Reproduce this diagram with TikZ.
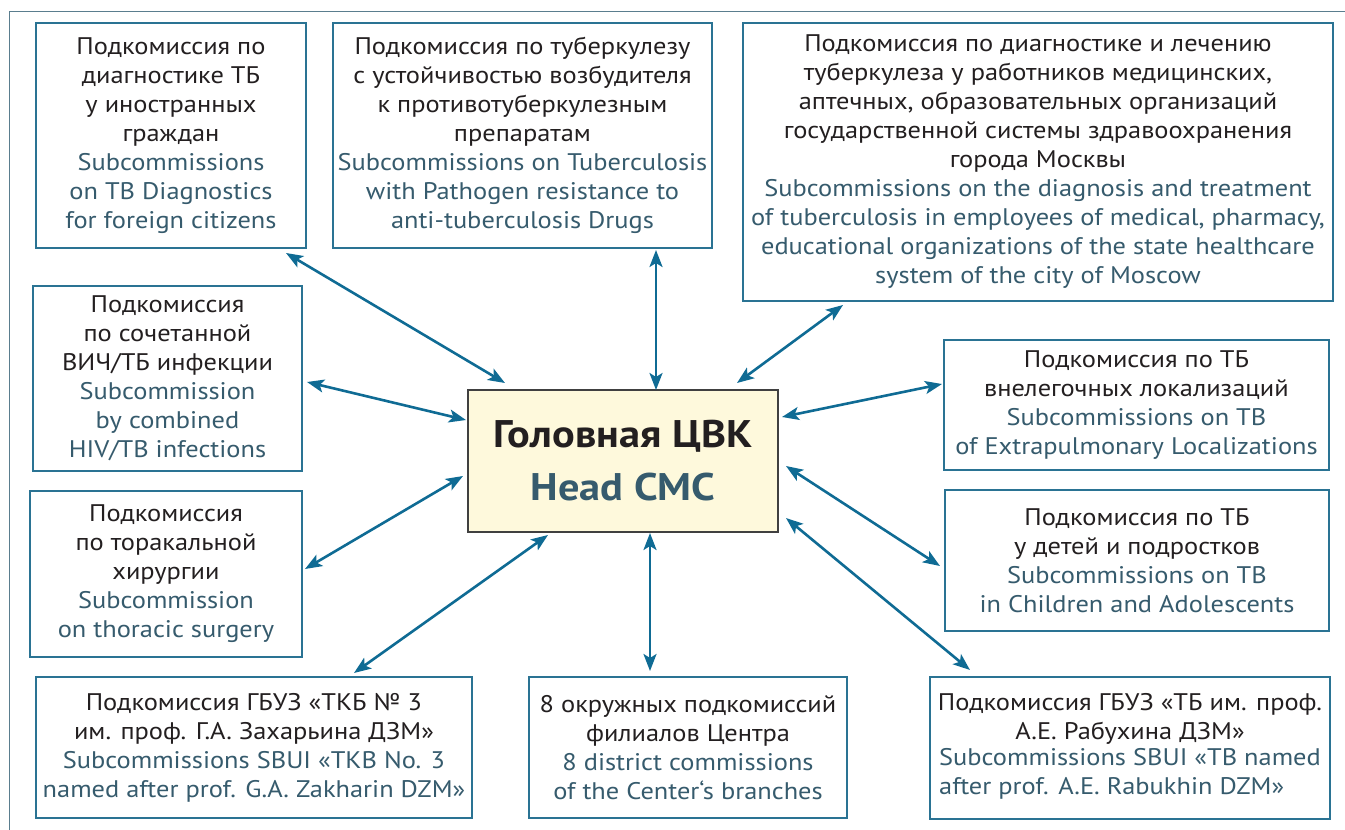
\documentclass[tikz,border=0pt]{standalone}
\usepackage{fontspec}
\setmainfont[FakeStretch=1.1]{PT Sans}
\usetikzlibrary{arrows.meta}
\definecolor{ru}{HTML}{231F20}
\definecolor{en}{HTML}{365B6D}
\definecolor{boxc}{HTML}{2A7393}
\definecolor{arr}{HTML}{0F6B94}
\definecolor{cfill}{HTML}{FEF9DC}
\definecolor{cdraw}{HTML}{404040}
\definecolor{frame}{HTML}{5A7D8E}
\newcommand{\en}[1]{\textcolor{en}{#1}}
\tikzset{
  box/.style={draw=boxc, line width=1.3pt, fill=white, inner sep=0pt, align=center,
    text=ru, font=\fontsize{24}{29}\selectfont},
  centre/.style={draw=cdraw, line width=1.5pt, fill=cfill, inner sep=0pt, align=center,
    text=ru, font=\fontsize{38.5}{53}\selectfont\bfseries},
  conn/.style={draw=arr, line width=2.6pt,
    {Stealth[length=17pt,width=13pt,inset=4pt]}-{Stealth[length=17pt,width=13pt,inset=4pt]}},
}
\begin{document}
\begin{tikzpicture}[x=1pt,y=-1pt]
\useasboundingbox (0,0) rectangle (1345,830);
\draw[frame, line width=1pt] (9,830) -- (9,11) -- (1345,11);

\node[centre, minimum width=310, minimum height=142] (c) at (623,461)
  {Головная ЦВК\\\en{Head CMC}};

\node[box, minimum width=270, minimum height=225] (b1) at (171,135.5)
  {Подкомиссия по\\диагностике ТБ\\у иностранных\\граждан\\\en{Subcommissions}\\\en{on TB Diagnostics}\\\en{for foreign citizens}};
\node[box, minimum width=379, minimum height=225] (b2) at (522.5,135.5)
  {Подкомиссия по туберкулезу\\с устойчивостью возбудителя\\к противотуберкулезным\\препаратам\\\en{Subcommissions on Tuberculosis}\\\en{with Pathogen resistance to}\\\en{anti-tuberculosis Drugs}};
\node[box, minimum width=590, minimum height=278] (b3) at (1038,162)
  {Подкомиссия по диагностике и лечению\\туберкулеза у работников медицинских,\\аптечных, образовательных организаций\\государственной системы здравоохранения\\города Москвы\\\en{Subcommissions on the diagnosis and treatment}\\\en{of tuberculosis in employees of medical, pharmacy,}\\\en{educational organizations of the state healthcare}\\\en{system of the city of Moscow}};
\node[box, minimum width=269, minimum height=185] (b4) at (167.5,378.5)
  {Подкомиссия\\по сочетанной\\ВИЧ/ТБ инфекции\\\en{Subcommission}\\\en{by combined}\\\en{HIV/TB infections}};
\node[box, minimum width=272, minimum height=166] (b5) at (166,574)
  {Подкомиссия\\по торакальной\\хирургии\\\en{Subcommission}\\\en{on thoracic surgery}};
\node[box, minimum width=436, minimum height=141] (b6) at (254,747.5)
  {Подкомиссия ГБУЗ «ТКБ № 3\\им. проф. Г.А. Захарьина ДЗМ»\\\en{Subcommissions SBUI «TKB No. 3}\\\en{named after prof. G.A. Zakharin DZM»}};
\node[box, minimum width=318, minimum height=141] (b7) at (688,747.5)
  {8 окружных подкомиссий\\филиалов Центра\\\en{8 district commissions}\\\en{of the Center‘s branches}};
\node[box, minimum width=400, minimum height=142] (b8) at (1130,748)
  {Подкомиссия ГБУЗ «ТБ им. проф.\\А.Е. Рабухина ДЗМ»\\\color{en}\begin{tabular}{@{}l@{}}Subcommissions SBUI «TB named\\after prof. A.E. Rabukhin DZM»\end{tabular}};
\node[box, minimum width=385, minimum height=130] (b9) at (1136.5,405)
  {Подкомиссия по ТБ\\внелегочных локализаций\\\en{Subcommissions on TB}\\\en{of Extrapulmonary Localizations}};
\node[box, minimum width=384, minimum height=141] (b10) at (1137,560.5)
  {Подкомиссия по ТБ\\у детей и подростков\\\en{Subcommissions on TB}\\\en{in Children and Adolescents}};

\coordinate (a1s) at (286,253);  \coordinate (a1e) at (505,383);
\coordinate (a2s) at (656,250);  \coordinate (a2e) at (656,390);
\coordinate (a3s) at (843,305);  \coordinate (a3e) at (737,383);
\coordinate (a4s) at (942,384);  \coordinate (a4e) at (782,417);
\coordinate (a5s) at (307,382);  \coordinate (a5e) at (466,420);
\coordinate (a6s) at (463,476);  \coordinate (a6e) at (305,569);
\coordinate (a7s) at (786,466);  \coordinate (a7e) at (940,566);
\coordinate (a8s) at (548,535);  \coordinate (a8e) at (354,673);
\coordinate (a9s) at (650,533);  \coordinate (a9e) at (650,671);
\coordinate (a10s) at (786,518); \coordinate (a10e) at (970,670);

\draw[conn] (a1s) -- (a1e);
\draw[conn] (a2s) -- (a2e);
\draw[conn] (a3s) -- (a3e);
\draw[conn] (a4s) -- (a4e);
\draw[conn] (a5s) -- (a5e);
\draw[conn] (a6s) -- (a6e);
\draw[conn] (a7s) -- (a7e);
\draw[conn] (a8s) -- (a8e);
\draw[conn] (a9s) -- (a9e);
\draw[conn] (a10s) -- (a10e);
\end{tikzpicture}
\end{document}
